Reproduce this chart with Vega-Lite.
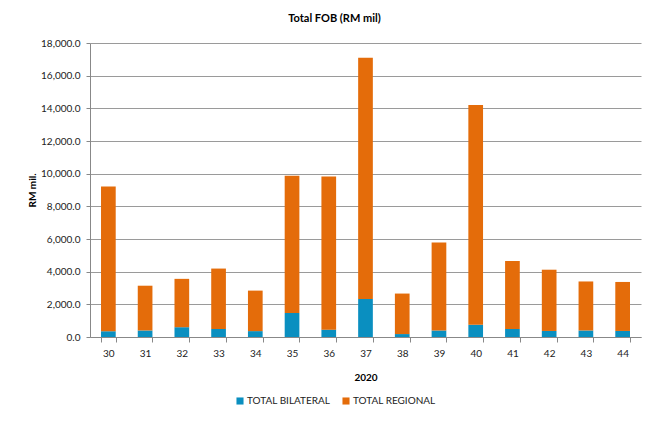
{
  "$schema": "https://vega.github.io/schema/vega-lite/v6.json",
  "autosize": {"type": "none"},
  "width": 551,
  "height": 294,
  "padding": {"left": 90, "top": 43, "right": 16, "bottom": 91},
  "background": "white",
  "title": {
    "text": "Total FOB (RM mil)",
    "font": "Lato",
    "fontSize": 11,
    "fontWeight": "bold",
    "color": "#000000",
    "anchor": "middle",
    "dx": -31,
    "offset": 14
  },
  "data": {
    "values": [
      {"week": "30", "type": "TOTAL BILATERAL", "value": 350},
      {"week": "30", "type": "TOTAL REGIONAL", "value": 8860},
      {"week": "31", "type": "TOTAL BILATERAL", "value": 400},
      {"week": "31", "type": "TOTAL REGIONAL", "value": 2740},
      {"week": "32", "type": "TOTAL BILATERAL", "value": 600},
      {"week": "32", "type": "TOTAL REGIONAL", "value": 2960},
      {"week": "33", "type": "TOTAL BILATERAL", "value": 490},
      {"week": "33", "type": "TOTAL REGIONAL", "value": 3700},
      {"week": "34", "type": "TOTAL BILATERAL", "value": 360},
      {"week": "34", "type": "TOTAL REGIONAL", "value": 2480},
      {"week": "35", "type": "TOTAL BILATERAL", "value": 1470},
      {"week": "35", "type": "TOTAL REGIONAL", "value": 8400},
      {"week": "36", "type": "TOTAL BILATERAL", "value": 450},
      {"week": "36", "type": "TOTAL REGIONAL", "value": 9370},
      {"week": "37", "type": "TOTAL BILATERAL", "value": 2330},
      {"week": "37", "type": "TOTAL REGIONAL", "value": 14760},
      {"week": "38", "type": "TOTAL BILATERAL", "value": 180},
      {"week": "38", "type": "TOTAL REGIONAL", "value": 2480},
      {"week": "39", "type": "TOTAL BILATERAL", "value": 400},
      {"week": "39", "type": "TOTAL REGIONAL", "value": 5380},
      {"week": "40", "type": "TOTAL BILATERAL", "value": 750},
      {"week": "40", "type": "TOTAL REGIONAL", "value": 13460},
      {"week": "41", "type": "TOTAL BILATERAL", "value": 490},
      {"week": "41", "type": "TOTAL REGIONAL", "value": 4160},
      {"week": "42", "type": "TOTAL BILATERAL", "value": 370},
      {"week": "42", "type": "TOTAL REGIONAL", "value": 3750},
      {"week": "43", "type": "TOTAL BILATERAL", "value": 400},
      {"week": "43", "type": "TOTAL REGIONAL", "value": 3000},
      {"week": "44", "type": "TOTAL BILATERAL", "value": 370},
      {"week": "44", "type": "TOTAL REGIONAL", "value": 3000}
    ]
  },
  "mark": {"type": "bar"},
  "encoding": {
    "x": {
      "field": "week",
      "type": "ordinal",
      "scale": {"paddingInner": 0.6, "paddingOuter": 0.3},
      "axis": {
        "title": "2020",
        "titleFont": "Lato",
        "titleFontSize": 10,
        "titleFontWeight": "bold",
        "titleColor": "#000000",
        "titlePadding": 14,
        "labelAngle": 0,
        "labelFont": "Lato",
        "labelFontSize": 10,
        "labelColor": "#222222",
        "labelPadding": 6,
        "tickBand": "extent",
        "tickSize": 5,
        "tickColor": "#888888",
        "domainColor": "#888888",
        "grid": false
      }
    },
    "y": {
      "field": "value",
      "type": "quantitative",
      "stack": "zero",
      "scale": {"domain": [0, 18000], "nice": false},
      "axis": {
        "title": "RM mil.",
        "titleFont": "Lato",
        "titleFontSize": 10,
        "titleFontWeight": "bold",
        "titleColor": "#000000",
        "titlePadding": 3,
        "values": [0, 2000, 4000, 6000, 8000, 10000, 12000, 14000, 16000, 18000],
        "format": ",.1f",
        "labelFont": "Lato",
        "labelFontSize": 10,
        "labelColor": "#222222",
        "labelPadding": 6,
        "tickSize": 4,
        "tickColor": "#888888",
        "domainColor": "#888888",
        "grid": true,
        "gridColor": "#9a9a9a",
        "gridWidth": 1
      }
    },
    "color": {
      "field": "type",
      "type": "nominal",
      "scale": {
        "domain": ["TOTAL BILATERAL", "TOTAL REGIONAL"],
        "range": ["#0a8fc0", "#e46c0a"]
      },
      "legend": {
        "title": null,
        "orient": "none",
        "direction": "horizontal",
        "legendX": 145,
        "legendY": 353,
        "symbolType": "square",
        "symbolSize": 50,
        "symbolStrokeWidth": 0,
        "labelFont": "Lato",
        "labelFontSize": 10,
        "labelColor": "#222222",
        "labelOffset": 2,
        "columnPadding": 10
      }
    },
    "order": {"field": "type", "sort": "ascending"}
  },
  "config": {
    "view": {"stroke": null}
  }
}
